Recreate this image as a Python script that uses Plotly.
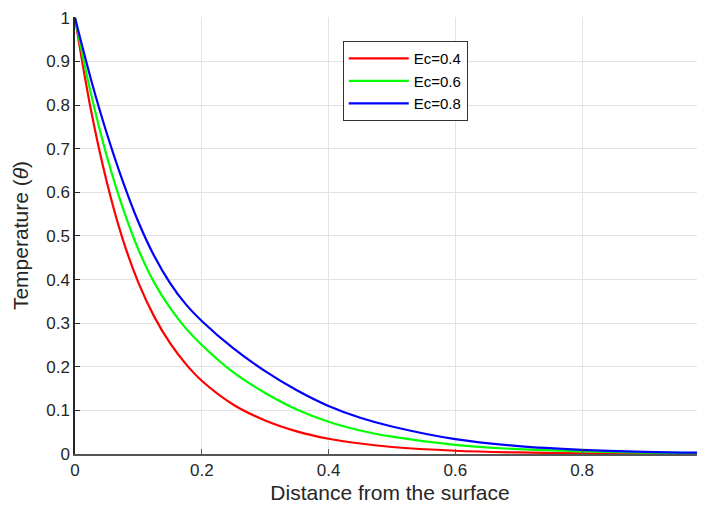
import plotly.graph_objects as go

x_vals = [0, 0.025, 0.05, 0.075, 0.1, 0.125, 0.15, 0.175, 0.2, 0.25, 0.3, 0.35,
          0.4, 0.45, 0.5, 0.6, 0.7, 0.8, 0.9, 1.0]
theta_ec04 = [1, 0.79, 0.625, 0.494, 0.393, 0.315, 0.254, 0.206, 0.168, 0.113, 0.077, 0.052,
              0.035, 0.024, 0.016, 0.0075, 0.0035, 0.0016, 0.0008, 0.0004]
theta_ec06 = [1, 0.827, 0.684, 0.566, 0.469, 0.393, 0.335, 0.288, 0.25, 0.187, 0.14, 0.102,
              0.074, 0.054, 0.04, 0.021, 0.011, 0.0059, 0.0031, 0.0017]
theta_ec08 = [1, 0.86, 0.736, 0.627, 0.532, 0.454, 0.392, 0.343, 0.305, 0.242, 0.19, 0.146,
              0.11, 0.083, 0.063, 0.034, 0.018, 0.0095, 0.005, 0.0026]
series_names = ["Ec=0.4", "Ec=0.6", "Ec=0.8"]
series_colors = ["#ff0000", "#00ff00", "#0000ff"]

x_ticks = [0, 0.2, 0.4, 0.6, 0.8]
x_ticklabels = ["0", "0.2", "0.4", "0.6", "0.8"]
y_ticks = [0, 0.1, 0.2, 0.3, 0.4, 0.5, 0.6, 0.7, 0.8, 0.9, 1]
y_ticklabels = ["0", "0.1", "0.2", "0.3", "0.4", "0.5", "0.6", "0.7", "0.8", "0.9", "1"]

fig = go.Figure()
for name, ys, col in zip(series_names, [theta_ec04, theta_ec06, theta_ec08], series_colors):
    fig.add_trace(go.Scatter(x=x_vals, y=ys, mode="lines", name=name,
                             line=dict(color=col, width=2.2, shape="spline", smoothing=1.0)))

font_fam = "Liberation Sans, Arial, sans-serif"
# the page body adds an 8px offset, so the figure is 697x501 and margins compensate
fig.update_layout(
    width=697, height=501,
    margin=dict(l=67, r=0, t=9, b=55),
    paper_bgcolor="white", plot_bgcolor="white",
    font=dict(family=font_fam, color="#262626", size=17),
    showlegend=True,
    legend=dict(x=0.425, y=0.945, xanchor="left", yanchor="top",
                bgcolor="white", bordercolor="#333333", borderwidth=1,
                font=dict(size=15, color="#000000"),
                itemwidth=60, tracegroupgap=0),
)
fig.update_xaxes(range=[0, 0.994], tickvals=x_ticks, ticktext=x_ticklabels,
                 automargin=False, ticklabeloverflow="allow",
                 showgrid=True, gridcolor="#e3e3e3", gridwidth=1,
                 showline=True, linecolor="#555555", linewidth=1.5,
                 ticks="inside", ticklen=5, tickcolor="#555555",
                 zeroline=False,
                 title=dict(text="Distance from the surface", font=dict(size=21), standoff=6))
fig.update_yaxes(range=[0, 1.002], tickvals=y_ticks, ticktext=y_ticklabels,
                 automargin=False, ticklabeloverflow="allow",
                 showgrid=True, gridcolor="#e3e3e3", gridwidth=1,
                 showline=True, linecolor="#262626", linewidth=1.5,
                 ticks="inside", ticklen=5, tickcolor="#262626",
                 zeroline=False,
                 title=dict(text="Temperature (<i>θ</i>)", font=dict(size=21), standoff=12))

fig.write_html("out.html")
